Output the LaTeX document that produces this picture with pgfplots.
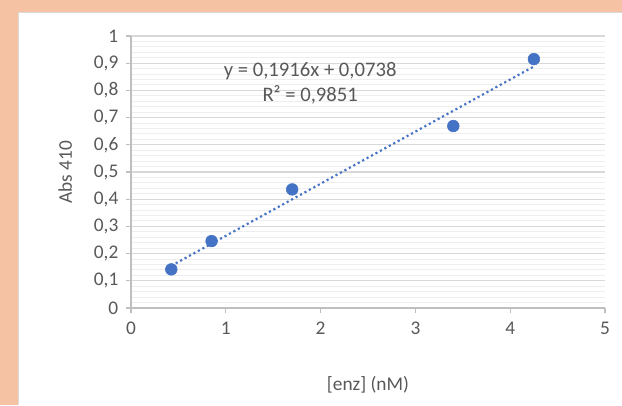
\documentclass[border=0pt]{standalone}
\usepackage{pgfplots}
\pgfplotsset{compat=1.18}
\usepackage{fontspec}
\setmainfont{Carlito}
\definecolor{peach}{HTML}{F5C3A3}
\definecolor{txtgray}{HTML}{595959}
\definecolor{majgrid}{HTML}{D9D9D9}
\definecolor{mingrid}{HTML}{EEEEEE}
\definecolor{axgray}{HTML}{BFBFBF}
\definecolor{xlblue}{HTML}{4472C4}
\begin{document}
\begin{tikzpicture}
\fill[peach] (0pt,0pt) rectangle (466.5pt,303.75pt);
\useasboundingbox (0pt,0pt) rectangle (466.5pt,303.75pt);
\fill[white] (13.5pt,0pt) rectangle (466.5pt,294.75pt);
\draw[majgrid, line width=0.5pt] (13.5pt,0pt) -- (13.5pt,294.75pt) -- (466.5pt,294.75pt);
\begin{axis}[
  at={(98.25pt,72.75pt)}, anchor=south west,
  scale only axis,
  width=355.5pt, height=204pt,
  xmin=0, xmax=5, ymin=0, ymax=1,
  xtick={0,1,2,3,4,5},
  ytick={0,0.1,...,1.0},
  minor y tick num=4,
  axis x line=bottom, axis y line=left,
  axis line style={axgray, line width=0.8pt, -},
  tick align=outside,
  major tick length=4pt,
  minor tick length=0pt,
  tick style={axgray, line width=0.8pt},
  ymajorgrids, yminorgrids,
  major grid style={majgrid, line width=0.8pt},
  minor grid style={mingrid, line width=0.8pt},
  ticklabel style={font=\fontsize{14.5pt}{16pt}\selectfont, color=txtgray},
  xticklabel style={yshift=-3pt},
  yticklabel style={/pgf/number format/fixed, xshift=-2pt},
  /pgf/number format/assume math mode=true,
  /pgf/number format/use comma,
  xlabel={[enz] (nM)},
  ylabel={Abs 410},
  label style={font=\fontsize{14.5pt}{16pt}\selectfont, color=txtgray},
  xlabel style={at={(axis description cs:0.5,-0.283)}, anchor=center},
  ylabel style={at={(axis description cs:-0.139,0.5)}, anchor=center},
  clip=false,
]
\addplot[xlblue, line width=1.6pt, dash pattern=on 1.6pt off 2.2pt] coordinates {
  (0.425,0.1552) (4.25,0.8881)
};
\addplot[only marks, mark=*, mark size=4.4pt, xlblue, mark options={fill=xlblue, draw=xlblue}] coordinates {
  (0.425,0.142) (0.85,0.246) (1.7,0.436) (3.4,0.669) (4.25,0.915)
};
\node[align=center, color=txtgray, font=\fontsize{15.5pt}{19pt}\selectfont] at (axis cs:1.89,0.826) {y = 0,1916x + 0,0738\\R² = 0,9851};
\end{axis}
\end{tikzpicture}
\end{document}
